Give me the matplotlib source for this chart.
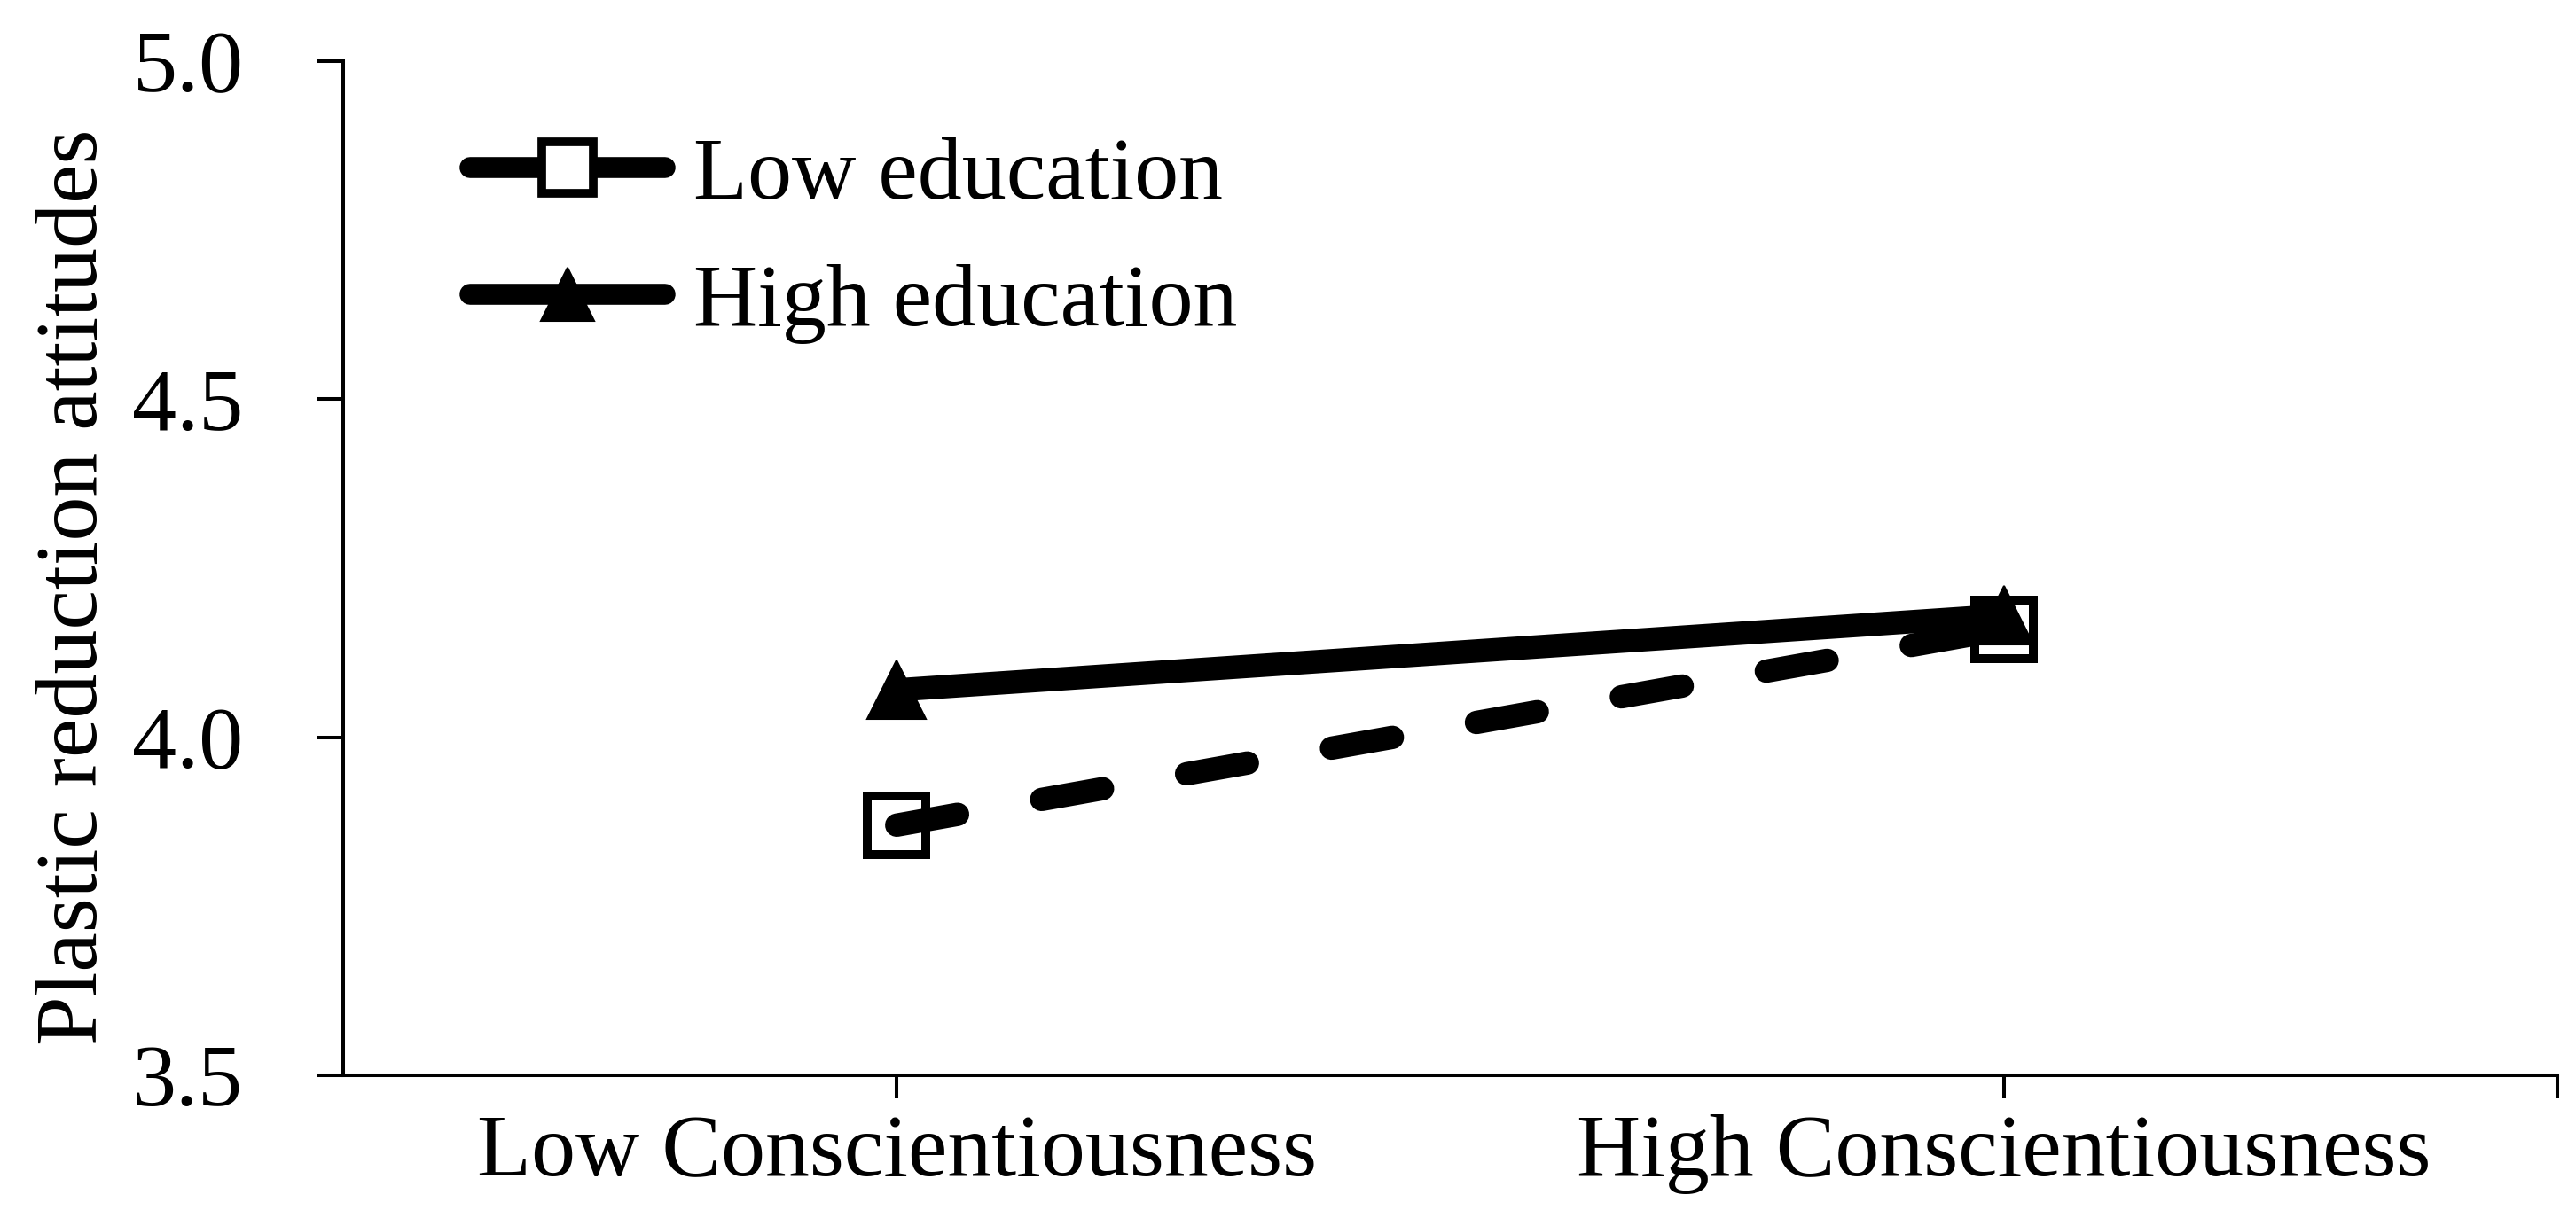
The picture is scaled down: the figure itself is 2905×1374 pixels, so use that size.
import matplotlib
matplotlib.use("Agg")
import matplotlib.pyplot as plt
from matplotlib.lines import Line2D

plt.rcParams['font.family'] = ['Liberation Serif', 'DejaVu Serif']

# data
categories = ["Low Conscientiousness", "High Conscientiousness"]
low_education = [3.87, 4.16]
high_education = [4.07, 4.18]
y_ticks = [3.5, 4.0, 4.5, 5.0]
series_names = ["Low education", "High education"]

x = list(range(len(categories)))

fig = plt.figure(figsize=(29.05, 13.74), dpi=100)
ax = fig.add_axes([387/2905, 1 - 1213/1374, (2884 - 387)/2905, (1213 - 69)/1374])

lw = 19
# low education: squares under a dashed line
ax.plot(x, low_education, ls='none', marker='s', ms=47, mew=7.2,
        mfc='white', mec='black', zorder=2)
ax.plot(x, low_education, color='black', lw=lw, dashes=(2.64, 3.65),
        dash_capstyle='round', zorder=3)
# high education: solid line with filled triangles
ax.plot(x, high_education, color='black', lw=lw, solid_capstyle='butt', zorder=4)
ax.plot(x, high_education, ls='none', marker='^', ms=47, mew=1.5,
        mfc='black', mec='black', zorder=5)

ax.set_xlim(-0.5, 1.5)
ax.set_ylim(3.5, 5.0)
ax.set_xticks(x + [1.5])
ax.set_xticklabels(categories + [""])
ax.set_yticks(y_ticks)
ax.set_yticklabels(["%.1f" % v for v in y_ticks])

for side in ['top', 'right']:
    ax.spines[side].set_visible(False)
for side in ['left', 'bottom']:
    ax.spines[side].set_linewidth(2.9)
ax.tick_params(axis='y', length=21, width=2.9, pad=60, labelsize=72)
ax.tick_params(axis='x', length=19, width=2.9, pad=13, labelsize=72)

ax.set_ylabel("Plastic reduction attitudes", fontsize=72)
ax.yaxis.set_label_coords(-0.103, 0.4816)

handles = [
    Line2D([], [], color='black', lw=17, solid_capstyle='round', marker='s',
           ms=42, mew=7, mfc='white', mec='black'),
    Line2D([], [], color='black', lw=17, solid_capstyle='round', marker='^',
           ms=43, mew=1.5, mfc='black', mec='black'),
]
ax.legend(handles, series_names, loc='upper left', bbox_to_anchor=(530/2905, 0.8876),
          bbox_transform=fig.transFigure, frameon=False, fontsize=72,
          handlelength=2.2, handletextpad=0.32, labelspacing=0.52,
          borderpad=0, borderaxespad=0)

fig.savefig("out.png", dpi=100, facecolor='white')
